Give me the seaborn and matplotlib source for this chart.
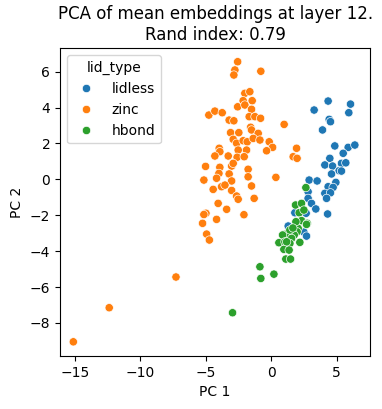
import pandas as pd
import matplotlib
matplotlib.use("Agg")
import matplotlib.pyplot as plt
import seaborn as sns

# PC coordinates per lid type
lidless_pc1 = [4.35, 6.06, 3.28, 5.93, 4.43, 4.53, 3.92, 4.86, 5.88, 6.39,
               5.50, 4.48, 4.10, 4.69, 5.37, 5.70, 5.19, 4.61, 2.90, 3.51,
               4.94, 4.35, 4.73, 2.82, 4.10, 4.53, 4.23, 2.82, 3.08, 3.41,
               4.31, 1.81, 2.67, 1.30, 2.50, 2.70, 5.37]
lidless_pc2 = [4.36, 4.19, 3.86, 3.71, 3.34, 3.21, 2.75, 1.86, 1.78, 1.91,
               1.45, 1.17, 0.80, 0.74, 0.89, 0.92, 0.48, 0.30, -0.04, -0.09,
               -0.17, -0.41, -0.45, -0.69, -0.78, -0.75, -1.06, -1.06, -1.34, -1.65,
               -1.93, -1.86, -1.89, -2.60, -2.94, -3.16, 0.46]

zinc_pc1 = [-2.56, -2.77, -2.85, -0.79, -2.01, -1.63, -2.14, -1.45, -2.56, -2.01,
            -1.50, -4.76, -4.30, -3.74, -1.68, -1.24, -0.81, -3.21, -2.85, 0.99,
            -1.57, -1.50, -3.10, -2.47, -0.99, -2.90, -2.64, -2.14, -1.83, -1.37,
            -0.86, -0.15, 0.11, -0.35, -3.97, -3.92, -2.52, -1.88, -4.30, -3.28,
            -2.60, -2.06, 1.94, 1.68, 1.98, -5.01, -3.92, -3.02, -2.90, -1.76,
            -3.99, -3.21, -1.76, 0.36, -5.14, -4.17, -3.02, -4.43, -3.79, -3.53,
            -3.02, -1.50, -2.64, -2.52, -1.30, -4.05, -3.40, -4.98, -5.14, -2.08,
            -4.17, -5.24, -4.93, -4.72, -7.27, -12.37, -15.11]
zinc_pc2 = [6.55, 6.09, 5.81, 6.02, 4.79, 4.88, 4.38, 4.38, 4.04, 4.14,
            3.90, 3.58, 3.80, 3.71, 3.49, 3.49, 3.40, 3.30, 3.26, 3.06,
            2.90, 2.75, 2.60, 2.60, 2.56, 2.23, 2.01, 2.15, 2.09, 2.28,
            2.19, 2.09, 1.78, 1.59, 1.73, 1.54, 1.63, 1.63, 1.30, 1.30,
            1.23, 1.26, 1.73, 1.26, 1.17, 0.72, 0.67, 0.74, 0.89, 0.56,
            0.33, 0.30, 0.14, 0.11, -0.04, 0.06, -0.09, -0.56, -0.41, -0.32,
            -0.62, -0.37, -0.93, -1.11, -1.06, -1.34, -1.67, -1.89, -1.96, -1.97,
            -2.23, -2.45, -3.05, -3.38, -5.44, -7.15, -9.05]

hbond_pc1 = [2.65, 1.86, 2.32, 2.14, 2.32, 2.75, 2.06, 1.98, 1.10, 0.87,
             1.76, 1.56, 0.59, 1.05, 1.43, 2.19, 0.97, 1.37, 1.12, 1.48,
             -0.86, 0.21, -0.79, -2.95, 1.89, 2.70, 1.43, 1.18, 1.66, 2.50]
hbond_pc2 = [-0.46, -1.43, -1.34, -1.86, -2.30, -2.45, -2.73, -2.92, -3.06, -3.10,
             -3.10, -3.29, -3.53, -3.48, -3.57, -3.51, -3.90, -3.94, -4.44, -4.44,
             -4.87, -5.28, -5.52, -7.43, -2.36, -2.51, -2.82, -3.48, -2.71, -1.71]

lid_types = ["lidless", "zinc", "hbond"]

df = pd.DataFrame({
    "PC 1": lidless_pc1 + zinc_pc1 + hbond_pc1,
    "PC 2": lidless_pc2 + zinc_pc2 + hbond_pc2,
    "lid_type": ["lidless"] * len(lidless_pc1) + ["zinc"] * len(zinc_pc1) + ["hbond"] * len(hbond_pc1),
})

fig, ax = plt.subplots(figsize=(3.82, 4.09), dpi=100)
sns.scatterplot(data=df, x="PC 1", y="PC 2", hue="lid_type", hue_order=lid_types, ax=ax)
ax.set_xlim(-16.13, 7.56)
ax.set_ylim(-9.83, 7.30)
ax.set_title("PCA of mean embeddings at layer 12.\nRand index: 0.79")
ax.legend(title="lid_type", loc="upper left")

plt.subplots_adjust(left=0.157, right=0.969, top=0.882, bottom=0.130)
plt.savefig("out.png", dpi=100)
